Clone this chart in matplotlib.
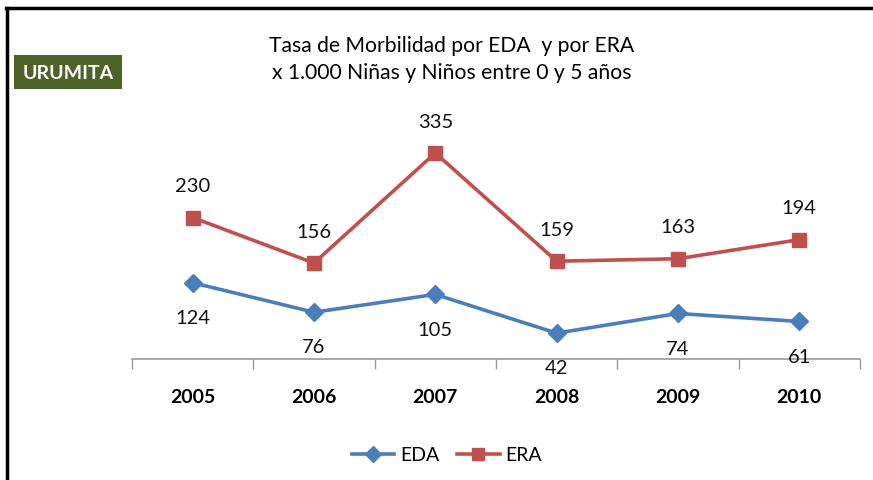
import numpy as np
import matplotlib
matplotlib.use("Agg")
import matplotlib.pyplot as plt
from matplotlib.lines import Line2D

plt.rcParams["font.family"] = ["Lato", "DejaVu Sans"]

years = ["2005", "2006", "2007", "2008", "2009", "2010"]
eda = [124, 76, 105, 42, 74, 61]
era = [230, 156, 335, 159, 163, 194]

BLUE, RED, OLIVE = "#4a7ebb", "#c0504d", "#4f6228"

fig = plt.figure(figsize=(8.73, 4.81), dpi=100)
ax = fig.add_axes([0.1512, 0.2516, 0.985 - 0.1512, 0.763 - 0.2516])
xs = np.arange(len(years))

ax.plot(xs, eda, color=BLUE, lw=2.6, marker="D", ms=9, label="EDA", zorder=3)
ax.plot(xs, era, color=RED, lw=2.6, marker="s", ms=10, label="ERA", zorder=3)
for x, v in zip(xs, eda):
    ax.annotate(str(v), (x, v), xytext=(0, -25), textcoords="offset points",
                ha="center", va="center", fontsize=14.5, color="#111111")
for x, v in zip(xs, era):
    ax.annotate(str(v), (x, v), xytext=(0, 23), textcoords="offset points",
                ha="center", va="center", fontsize=14.5, color="#111111")

ax.set_xlim(-0.5, len(years) - 0.5)
ax.set_ylim(0, 400)
ax.set_yticks([])
ax.set_xticks(np.arange(len(years) + 1) - 0.5, minor=False)
ax.set_xticklabels([])
ax.tick_params(axis="x", length=7, color="#999999", width=1)
ax.set_xticks(xs, minor=True)
ax.set_xticklabels(years, minor=True, fontsize=14, fontweight="bold")
ax.tick_params(axis="x", which="minor", length=0, pad=21)
for s in ["top", "right", "left"]:
    ax.spines[s].set_visible(False)
ax.spines["bottom"].set_color("#999999")
ax.spines["bottom"].set_linewidth(1.2)

fig.text(0.517, 0.905, "Tasa de Morbilidad por EDA  y por ERA", ha="center",
         va="center", fontsize=15.2)
fig.text(0.517, 0.848, "x 1.000 Niñas y Niños entre 0 y 5 años", ha="center",
         va="center", fontsize=15.2)
fig.text(0.078, 0.848, "URUMITA", ha="center", va="center", fontsize=14,
         fontweight="bold", color="white",
         bbox=dict(fc=OLIVE, ec="none", boxstyle="square,pad=0.42"))

ax.legend(loc="center", frameon=False, ncol=2, fontsize=14, handlelength=2.2,
          handletextpad=0.3, columnspacing=0.9, markerscale=0.85)
leg = ax.get_legend()
leg.set_bbox_to_anchor((0.512, 0.052), transform=fig.transFigure)

fig.add_artist(Line2D([0.008, 0.008], [0, 0.982], color="black", lw=2.5,
                      transform=fig.transFigure))
fig.add_artist(Line2D([0.007, 1.0], [0.981, 0.981], color="black", lw=2.5,
                      transform=fig.transFigure))

fig.savefig("out.png", dpi=100)
